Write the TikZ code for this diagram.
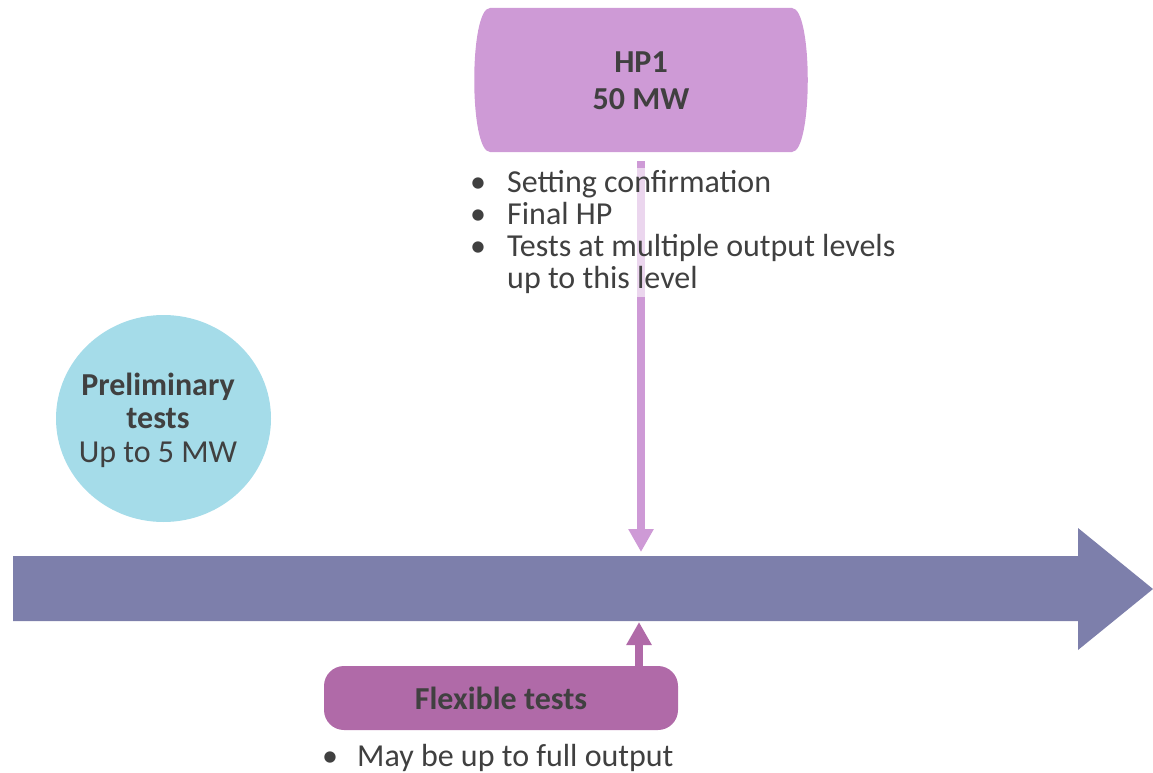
\documentclass[tikz,border=0pt]{standalone}
\usepackage{fontspec}
\setmainfont{Carlito}
\usetikzlibrary{arrows.meta,shapes.geometric}
\definecolor{barc}{HTML}{7D7FAB}
\definecolor{hpc}{HTML}{CE9AD6}
\definecolor{prec}{HTML}{A5DCE9}
\definecolor{flexc}{HTML}{B06AA8}
\definecolor{txt}{HTML}{404040}
\tikzset{
  bul/.style={font=\fontsize{32}{32}\selectfont, text=txt, anchor=base west, inner sep=0pt},
  conn/.style={line width=8pt, -{Triangle[width=24pt,length=23pt]}},
  bigtxt/.style={font=\fontsize{32}{37}\selectfont, text=txt, align=center, inner sep=0pt}
}
\begin{document}
\begin{tikzpicture}[x=1pt,y=-1pt]
\useasboundingbox (0,0) rectangle (1153,773);
% timeline bar
\fill[barc] (13,556) -- (1078,556) -- (1078,528) -- (1153,589) -- (1078,650) -- (1078,621) -- (13,621) -- cycle;
\coordinate (bartop) at (641,552);
\coordinate (barbot) at (639,622);
% HP1 shape
\fill[hpc] (490,8) -- (792,8) .. controls (813,8) and (813,152) .. (792,152) -- (490,152) .. controls (469,152) and (469,8) .. (490,8) -- cycle;
\node[bigtxt, font=\fontsize{32}{37}\selectfont\bfseries, minimum width=333pt, minimum height=144pt] (hp1) at (641,81) {HP1\\50 MW};
\draw[hpc, conn] ([yshift=-8pt]hp1.south) -- (bartop);
\fill[white, opacity=0.6] (636,168) rectangle (646,297);
% bullet list
\node[bul] (l1) at (470,192) {\makebox[37pt][l]{•}Setting confirmation};
\node[bul] (l2) at (470,224) {\makebox[37pt][l]{•}Final HP};
\node[bul] (l3) at (470,256) {\makebox[37pt][l]{•}Tests at multiple output levels};
\node[bul] (l4) at (507,288) {up to this level};
% preliminary
\node[ellipse, fill=prec, minimum width=215pt, minimum height=207pt, inner sep=0pt] (pre) at (163.5,418.5) {};
\node[bigtxt, font=\fontsize{32}{33.5}\selectfont] (pretext) at (158,420) {\textbf{Preliminary}\\\textbf{tests}\\Up to 5 MW};
% flexible
\node[fill=flexc, rounded corners=20pt, minimum width=354pt, minimum height=64pt, bigtxt, font=\fontsize{32}{32}\selectfont\bfseries] (flex) at (501,698) {Flexible tests};
\draw[flexc, conn] (flex.north -| barbot) -- (barbot);
\node[bul] (m1) at (322,766) {\makebox[35pt][l]{•}May be up to full output};
\end{tikzpicture}
\end{document}
